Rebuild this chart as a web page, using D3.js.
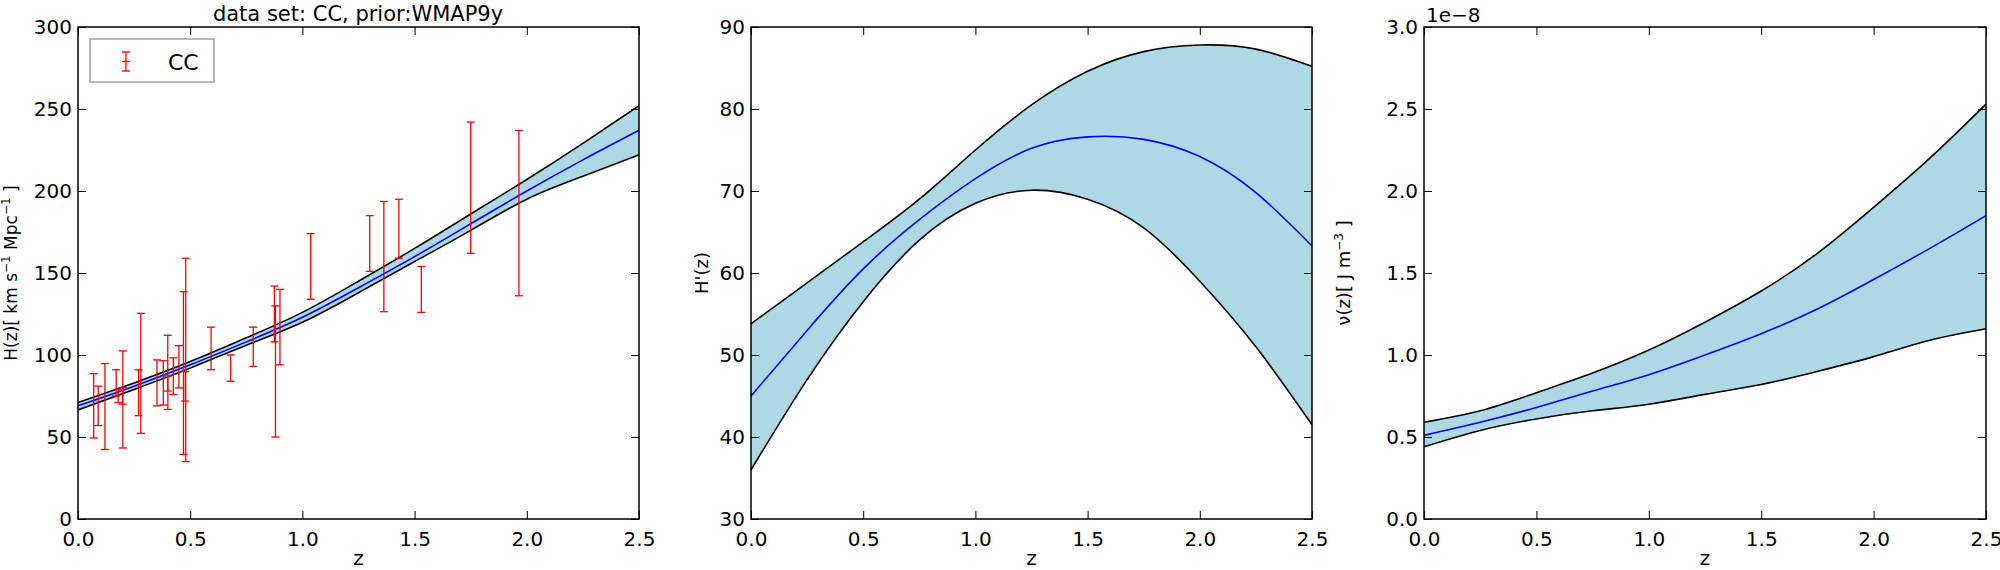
<!DOCTYPE html>
<html><head><meta charset="utf-8">
<script src="https://cdn.jsdelivr.net/npm/d3@7"></script>
<style>body{margin:0;background:#fff}text{font-family:"DejaVu Sans";fill:#000}</style>
</head><body>
<svg id="c" width="2000" height="570"></svg>
<script>
const ccZ=[0.07,0.09,0.12,0.17,0.179,0.199,0.2,0.27,0.28,0.352,0.3802,0.4,0.4004,0.4247,0.4497,0.47,0.4783,0.48,0.593,0.68,0.781,0.875,0.88,0.9,1.037,1.3,1.363,1.43,1.53,1.75,1.965];
const ccH=[69,69,68.6,83,75,75,72.9,77,88.8,83,83,95,77,87.1,92.8,89,80.9,97,104,92,105,125,90,117,154,168,160,177,140,202,186.5];
const ccErr=[19.6,12,26.2,8,4,5,29.6,14,36.6,14,13.5,17,10.2,11.2,12.9,49.6,9,62,13,8,12,17,40,23,20,17,33.6,18,14,40,50.4];

const zGrid=[0,0.25,0.5,0.75,1,1.25,1.5,1.75,2,2.25,2.5];
const hMean=[69,81,94,108,123,141,160,180,200,219,237];
const hUp=[71,83,96,110.5,126,145,165,186,207,229,252];
const hLo=[66.5,79,92,106,120,138,157,176,195,209,222];

const dMean=[45,53,60.5,66.5,71.5,75.2,76.6,76.3,74.2,69.8,63.3];
const dUp=[53.8,58.8,63.8,69,75,80.5,84.6,87,87.8,87.3,85.2];
const dLo=[36,47,56.5,64,68.5,70.1,69,65.5,59,51,41.5];

const nMean=[0.51,0.59,0.68,0.78,0.88,1.0,1.13,1.28,1.46,1.65,1.85];
const nUp=[0.59,0.66,0.77,0.89,1.03,1.2,1.39,1.62,1.9,2.2,2.53];
const nLo=[0.44,0.54,0.61,0.66,0.70,0.76,0.82,0.9,0.99,1.09,1.16];

const xTicks=[0,0.5,1,1.5,2,2.5];
const svg=d3.select("#c");
const yTop=27,yBot=519;
function panel(x0,x1,yDom,yTicks,fmt){
  const g=svg.append("g");
  const x=d3.scaleLinear().domain([0,2.5]).range([x0,x1]);
  const y=d3.scaleLinear().domain(yDom).range([yBot,yTop]);
  return {g,x,y,yTicks,fmt,x0,x1};
}
function frame(p){
  const {g,x,y}=p;
  const ax=(sel,axis)=>{sel.call(axis);sel.select(".domain").remove();sel.selectAll("text").style("font-size","20px").style("font-family","DejaVu Sans");sel.selectAll("line").attr("stroke","#000");};
  g.append("g").attr("transform",`translate(0,${yBot})`).call(s=>ax(s,d3.axisBottom(x).tickValues(xTicks).tickFormat(d3.format(".1f")).tickSizeInner(-8).tickPadding(13)));
  g.append("g").attr("transform",`translate(0,${yTop})`).call(s=>ax(s,d3.axisTop(x).tickValues(xTicks).tickFormat("").tickSizeInner(-8)));
  g.append("g").attr("transform",`translate(${p.x0},0)`).call(s=>ax(s,d3.axisLeft(y).tickValues(p.yTicks).tickFormat(p.fmt).tickSizeInner(-8).tickPadding(6)));
  g.append("g").attr("transform",`translate(${p.x1},0)`).call(s=>ax(s,d3.axisRight(y).tickValues(p.yTicks).tickFormat("").tickSizeInner(-8)));
  g.append("rect").attr("x",p.x0).attr("y",yTop).attr("width",p.x1-p.x0).attr("height",yBot-yTop).attr("fill","none").attr("stroke","#000").attr("stroke-width",1.5);
  g.append("text").attr("x",(p.x0+p.x1)/2).attr("y",565).attr("text-anchor","middle").style("font-size","20px").text("z");
}
function band(p,up,lo,mean){
  const {g,x,y}=p;
  const cv=d3.curveNatural;
  g.append("path").attr("d",d3.area().x((d,i)=>x(zGrid[i])).y0((d,i)=>y(lo[i])).y1(d=>y(d)).curve(cv)(up)).attr("fill","#add8e6");
  const ln=d3.line().x((d,i)=>x(zGrid[i])).y(d=>y(d)).curve(cv);
  g.append("path").attr("d",ln(up)).attr("fill","none").attr("stroke","#000").attr("stroke-width",1.6);
  g.append("path").attr("d",ln(lo)).attr("fill","none").attr("stroke","#000").attr("stroke-width",1.6);
  g.append("path").attr("d",ln(mean)).attr("fill","none").attr("stroke","#0000ff").attr("stroke-width",1.6);
}
const p1=panel(78,639,[0,300],[0,50,100,150,200,250,300],d3.format("d"));
svg.append("clipPath").attr("id","cp1").append("rect").attr("x",78).attr("y",yTop).attr("width",561).attr("height",yBot-yTop);
const g1c=p1.g.append("g").attr("clip-path","url(#cp1)");
band({g:g1c,x:p1.x,y:p1.y},hUp,hLo,hMean);
const eb=g1c.append("g").attr("stroke","red").attr("stroke-width",1.3);
ccZ.forEach((z,i)=>{
  const X=p1.x(z),Y1=p1.y(ccH[i]+ccErr[i]),Y0=p1.y(ccH[i]-ccErr[i]);
  eb.append("line").attr("x1",X).attr("x2",X).attr("y1",Y1).attr("y2",Y0);
  eb.append("line").attr("x1",X-4).attr("x2",X+4).attr("y1",Y1).attr("y2",Y1);
  eb.append("line").attr("x1",X-4).attr("x2",X+4).attr("y1",Y0).attr("y2",Y0);
});
frame(p1);
p1.g.append("text").attr("x",358).attr("y",21).attr("text-anchor","middle").style("font-size","21px").text("data set: CC, prior:WMAP9y");
const lt=p1.g.append("text").attr("transform","translate(17,273) rotate(-90)").attr("text-anchor","middle").style("font-size","17px");
lt.append("tspan").text("H(z)[ km s");lt.append("tspan").attr("dy",-7).style("font-size","12px").text("−1");
lt.append("tspan").attr("dy",7).text(" Mpc");lt.append("tspan").attr("dy",-7).style("font-size","12px").text("−1");
lt.append("tspan").attr("dy",7).text(" ]");
const lg=p1.g.append("g");
lg.append("rect").attr("x",90).attr("y",39).attr("width",124).attr("height",43).attr("fill","#fff").attr("stroke","#888").attr("stroke-width",1.2);
const lgl=lg.append("g").attr("stroke","red").attr("stroke-width",1.3);
lgl.append("line").attr("x1",126).attr("x2",126).attr("y1",52).attr("y2",71);
[52,61.5,71].forEach(v=>lgl.append("line").attr("x1",122).attr("x2",130).attr("y1",v).attr("y2",v));
lg.append("text").attr("x",168).attr("y",70).style("font-size","22px").text("CC");
const p2=panel(751,1312,[30,90],[30,40,50,60,70,80,90],d3.format("d"));
band(p2,dUp,dLo,dMean);
frame(p2);
p2.g.append("text").attr("transform","translate(708,273) rotate(-90)").attr("text-anchor","middle").style("font-size","18px").text("H'(z)");
const p3=panel(1424,1986,[0,3],[0,0.5,1,1.5,2,2.5,3],d3.format(".1f"));
band(p3,nUp,nLo,nMean);
frame(p3);
p3.g.append("text").attr("x",1426).attr("y",22).style("font-size","20px").text("1e−8");
const nt=p3.g.append("text").attr("transform","translate(1350,273) rotate(-90)").attr("text-anchor","middle").style("font-size","18px");
nt.append("tspan").text("ν(z)[ J m");nt.append("tspan").attr("dy",-7).style("font-size","12px").text("−3");nt.append("tspan").attr("dy",7).text(" ]");
</script></body></html>
